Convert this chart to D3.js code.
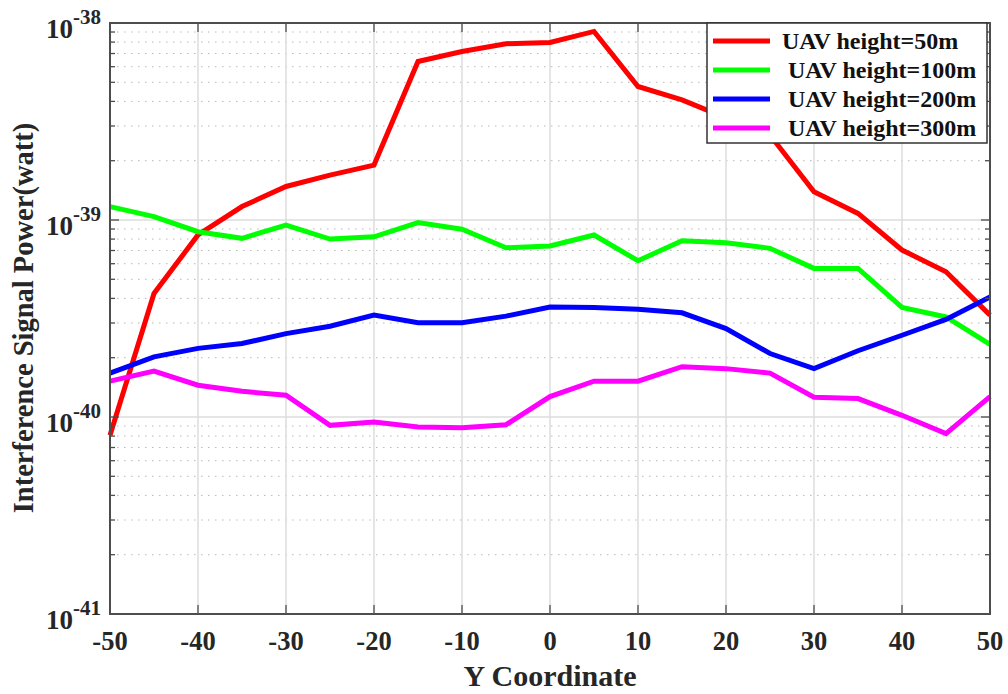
<!DOCTYPE html>
<html>
<head>
<meta charset="utf-8">
<script src="https://cdn.jsdelivr.net/npm/d3@7"></script>
<style>
  html, body { margin: 0; padding: 0; background: #fff; }
  svg { display: block; }
  text { font-family: "Liberation Serif", "Times New Roman", serif; font-weight: bold; }
</style>
</head>
<body>
<svg id="chart" width="1008" height="694"></svg>
<script>
// Y coordinate positions (m)
const yCoord = [-50, -45, -40, -35, -30, -25, -20, -15, -10, -5, 0, 5, 10, 15, 20, 25, 30, 35, 40, 45, 50];

// Interference signal power (watt) per UAV height
const power50 = [8.07e-41, 4.24e-40, 8.4e-40, 1.17e-39, 1.48e-39, 1.69e-39, 1.90e-39, 6.38e-39, 7.17e-39, 7.85e-39, 7.97e-39,
                 9.06e-39, 4.76e-39, 4.07e-39, 3.3e-39, 2.7e-39, 1.39e-39, 1.08e-39, 7.04e-40, 5.46e-40, 3.29e-40];
const power100 = [1.17e-39, 1.04e-39, 8.72e-40, 8.07e-40, 9.43e-40, 8.0e-40, 8.22e-40, 9.7e-40, 8.97e-40, 7.23e-40, 7.38e-40,
                  8.39e-40, 6.21e-40, 7.85e-40, 7.67e-40, 7.18e-40, 5.68e-40, 5.68e-40, 3.6e-40, 3.22e-40, 2.34e-40];
const power200 = [1.67e-40, 2.02e-40, 2.23e-40, 2.36e-40, 2.65e-40, 2.89e-40, 3.29e-40, 3.01e-40, 3.01e-40, 3.25e-40, 3.62e-40,
                  3.6e-40, 3.52e-40, 3.38e-40, 2.81e-40, 2.1e-40, 1.76e-40, 2.17e-40, 2.6e-40, 3.13e-40, 4.07e-40];
const power300 = [1.52e-40, 1.71e-40, 1.45e-40, 1.35e-40, 1.29e-40, 9.07e-41, 9.43e-41, 8.9e-41, 8.83e-41, 9.14e-41, 1.27e-40,
                  1.52e-40, 1.52e-40, 1.80e-40, 1.76e-40, 1.67e-40, 1.26e-40, 1.24e-40, 1.02e-40, 8.24e-41, 1.27e-40];

const seriesNames = ["UAV height=50m", " UAV height=100m", " UAV height=200m", " UAV height=300m"];
const seriesColors = ["#ff0000", "#00ff00", "#0000ff", "#ff00ff"];
const seriesValues = [power50, power100, power200, power300];

const xTicks = [-50, -40, -30, -20, -10, 0, 10, 20, 30, 40, 50];
const yExponents = [-38, -39, -40, -41];

const xLabel = "Y Coordinate";
const yLabel = "Interference Signal Power(watt)";

// ---- layout ----
const svg = d3.select("#chart");
const plot = { left: 110, right: 990, top: 23, bottom: 614 };

const x = d3.scaleLinear().domain([-50, 50]).range([plot.left, plot.right]);
const y = d3.scaleLog().domain([1e-41, 1e-38]).range([plot.bottom, plot.top]);

const axisColor = "#4d4d4d";
const labelColor = "#262626";

// minor log ticks 2..9 in each decade
const minorTicks = [];
for (let e = -41; e < -38; e++) {
  for (let m = 2; m <= 9; m++) minorTicks.push(m * Math.pow(10, e));
}
const majorTicks = yExponents.map(e => Math.pow(10, e));

const grid = svg.append("g");
// minor dotted horizontal grid
grid.selectAll("line.minor").data(minorTicks).join("line")
  .attr("x1", plot.left).attr("x2", plot.right)
  .attr("y1", d => y(d)).attr("y2", d => y(d))
  .attr("stroke", "#b8b8b8").attr("stroke-width", 1)
  .attr("stroke-dasharray", "1.5,5.5");
// major horizontal grid
grid.selectAll("line.major").data(majorTicks.filter(d => d > 1e-41 && d < 1e-38)).join("line")
  .attr("x1", plot.left).attr("x2", plot.right)
  .attr("y1", d => y(d)).attr("y2", d => y(d))
  .attr("stroke", "#dcdcdc").attr("stroke-width", 1.5);
// vertical grid
grid.selectAll("line.vx").data(xTicks.slice(1, -1)).join("line")
  .attr("x1", d => x(d)).attr("x2", d => x(d))
  .attr("y1", plot.top).attr("y2", plot.bottom)
  .attr("stroke", "#dcdcdc").attr("stroke-width", 1.5);

// ---- data lines ----
const line = d3.line()
  .x((d, i) => x(yCoord[i]))
  .y(d => y(d));

const lines = svg.append("g");
seriesValues.forEach((vals, k) => {
  lines.append("path")
    .datum(vals)
    .attr("d", line)
    .attr("fill", "none")
    .attr("stroke", seriesColors[k])
    .attr("stroke-width", 5)
    .attr("stroke-linejoin", "miter")
    .attr("stroke-miterlimit", 3);
});

// ---- axes frame and ticks ----
const frame = svg.append("g");
const majLen = 9, minLen = 5;

// x ticks bottom and top (inward)
frame.selectAll("line.xb").data(xTicks).join("line")
  .attr("x1", d => x(d)).attr("x2", d => x(d))
  .attr("y1", plot.bottom).attr("y2", plot.bottom - majLen)
  .attr("stroke", axisColor).attr("stroke-width", 1.3);
frame.selectAll("line.xt").data(xTicks).join("line")
  .attr("x1", d => x(d)).attr("x2", d => x(d))
  .attr("y1", plot.top).attr("y2", plot.top + majLen)
  .attr("stroke", axisColor).attr("stroke-width", 1.3);

// y ticks left and right (inward)
[[plot.left, 1], [plot.right, -1]].forEach(([x0, dir]) => {
  frame.append("g").selectAll("line").data(majorTicks).join("line")
    .attr("x1", x0).attr("x2", x0 + dir * majLen)
    .attr("y1", d => y(d)).attr("y2", d => y(d))
    .attr("stroke", axisColor).attr("stroke-width", 1.3);
  frame.append("g").selectAll("line").data(minorTicks).join("line")
    .attr("x1", x0).attr("x2", x0 + dir * minLen)
    .attr("y1", d => y(d)).attr("y2", d => y(d))
    .attr("stroke", axisColor).attr("stroke-width", 1.3);
});

frame.append("rect")
  .attr("x", plot.left).attr("y", plot.top)
  .attr("width", plot.right - plot.left).attr("height", plot.bottom - plot.top)
  .attr("fill", "none").attr("stroke", axisColor).attr("stroke-width", 2);

// ---- tick labels ----
svg.append("g").selectAll("text").data(xTicks).join("text")
  .attr("x", d => x(d)).attr("y", plot.bottom + 36)
  .attr("text-anchor", "middle")
  .attr("font-size", 26.5).attr("fill", labelColor)
  .text(d => d);

const yl = svg.append("g").selectAll("text").data(yExponents).join("text")
  .attr("x", 101).attr("y", d => y(Math.pow(10, d)) + 15)
  .attr("text-anchor", "end")
  .attr("fill", labelColor);
yl.append("tspan").attr("font-size", 27).text("10");
yl.append("tspan").attr("font-size", 21).attr("dy", -14).text(d => d);

// ---- axis titles ----
svg.append("text")
  .attr("x", (plot.left + plot.right) / 2).attr("y", 686)
  .attr("text-anchor", "middle")
  .attr("font-size", 30).attr("fill", labelColor)
  .text(xLabel);

svg.append("text")
  .attr("transform", `translate(33, ${318}) rotate(-90)`)
  .attr("text-anchor", "middle")
  .attr("font-size", 28.5).attr("fill", labelColor)
  .text(yLabel);

// ---- legend ----
const lg = svg.append("g");
const lgBox = { x: 707, y: 23, w: 280, h: 120 };
lg.append("rect")
  .attr("x", lgBox.x).attr("y", lgBox.y).attr("width", lgBox.w).attr("height", lgBox.h)
  .attr("fill", "#fff").attr("stroke", "#333").attr("stroke-width", 1.5);
const rowY = [41, 70, 99, 128];
seriesNames.forEach((name, k) => {
  lg.append("line")
    .attr("x1", 713).attr("x2", 770)
    .attr("y1", rowY[k]).attr("y2", rowY[k])
    .attr("stroke", seriesColors[k]).attr("stroke-width", 5);
  lg.append("text")
    .attr("x", 782).attr("y", rowY[k] + 7.5)
    .attr("font-size", 24).attr("fill", "#111")
    .attr("xml:space", "preserve")
    .style("white-space", "pre")
    .text(name);
});
</script>
</body>
</html>
